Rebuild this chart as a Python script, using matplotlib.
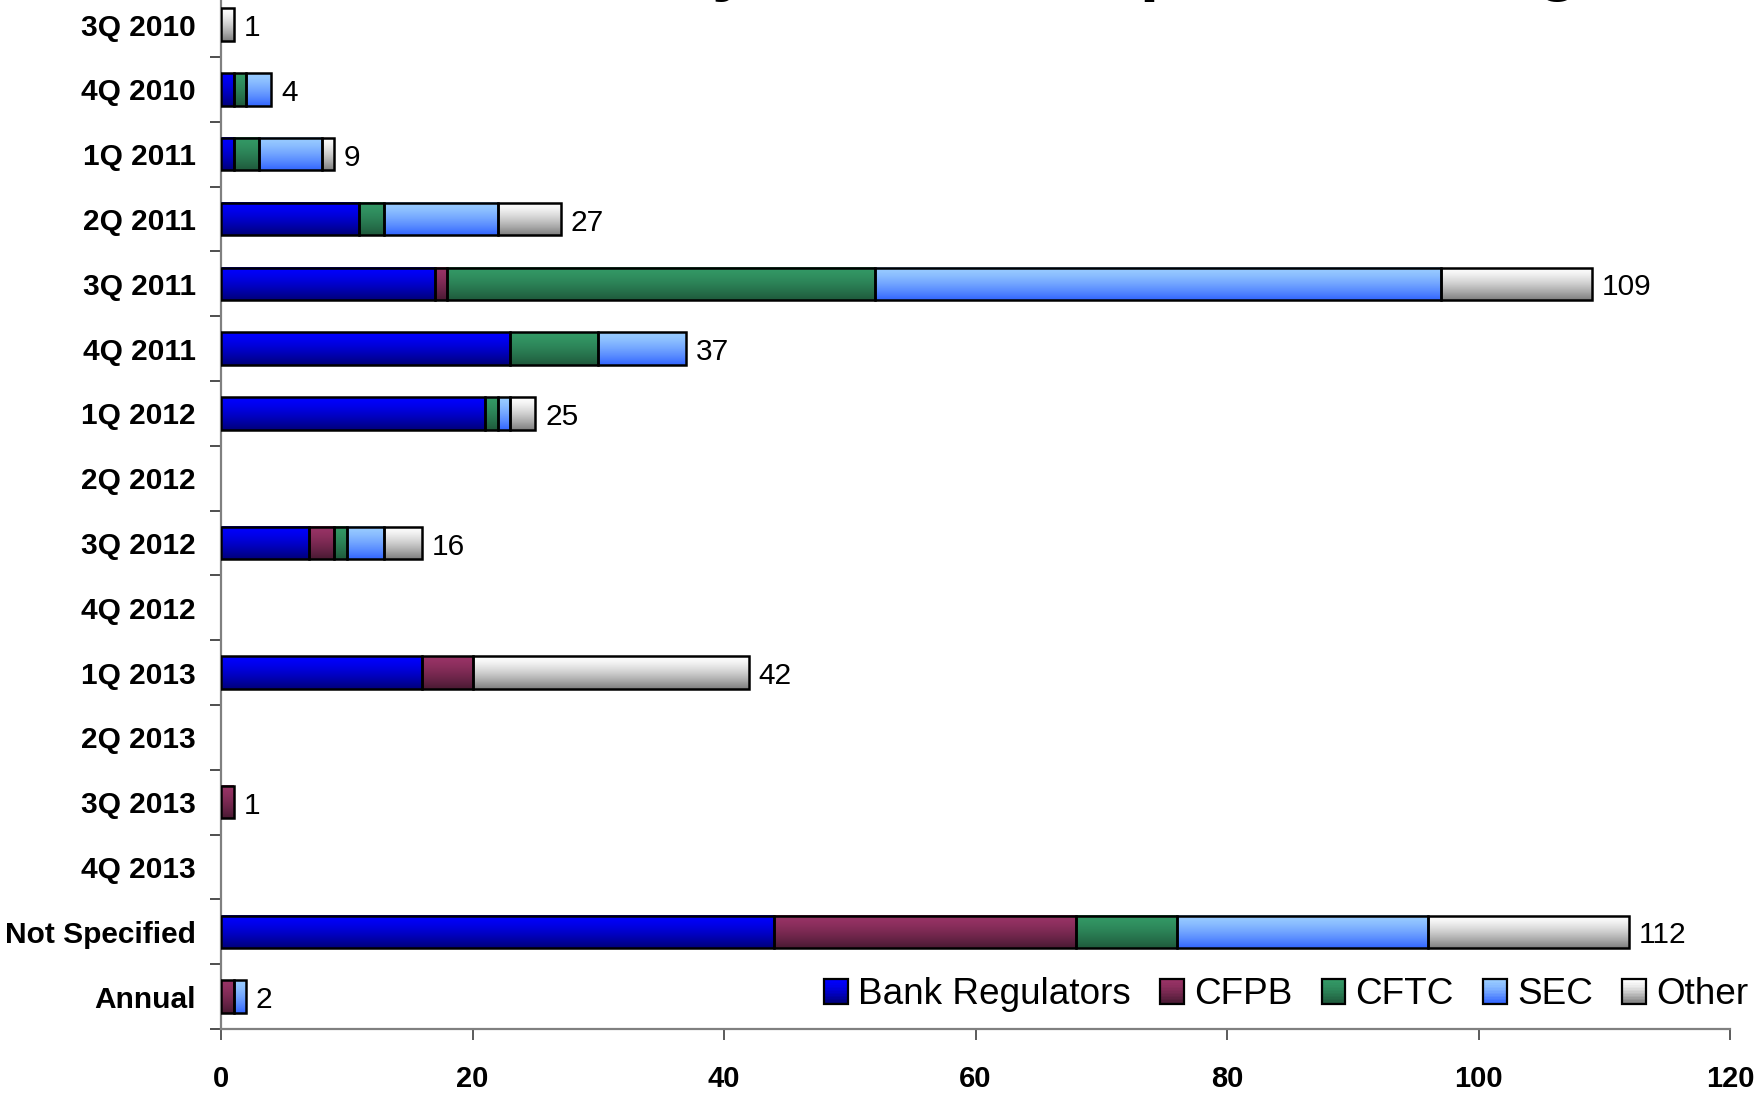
import numpy as np
import matplotlib
matplotlib.use("Agg")
import matplotlib.pyplot as plt
from matplotlib.patches import Rectangle
from matplotlib.legend_handler import HandlerBase
from matplotlib.colors import to_rgb

plt.rcParams['font.family'] = ['Liberation Sans', 'DejaVu Sans']

# ---- data -------------------------------------------------------------
categories = ['3Q 2010', '4Q 2010', '1Q 2011', '2Q 2011', '3Q 2011', '4Q 2011',
              '1Q 2012', '2Q 2012', '3Q 2012', '4Q 2012', '1Q 2013', '2Q 2013',
              '3Q 2013', '4Q 2013', 'Not Specified', 'Annual']
bank_regulators = [0, 1, 1, 11, 17, 23, 21, 0, 7, 0, 16, 0, 0, 0, 44, 0]
cfpb            = [0, 0, 0, 0, 1, 0, 0, 0, 2, 0, 4, 0, 1, 0, 24, 1]
cftc            = [0, 1, 2, 2, 34, 7, 1, 0, 1, 0, 0, 0, 0, 0, 8, 0]
sec             = [0, 2, 5, 9, 45, 7, 1, 0, 3, 0, 0, 0, 0, 0, 20, 1]
other           = [1, 0, 1, 5, 12, 0, 2, 0, 3, 0, 22, 0, 0, 0, 16, 0]

series_names = ['Bank Regulators', 'CFPB', 'CFTC', 'SEC', 'Other']
series_values = [bank_regulators, cfpb, cftc, sec, other]
# (top colour, bottom colour) of each vertical gradient
series_colors = [('#0000FF', '#00007A'),
                 ('#993366', '#4A1A33'),
                 ('#339966', '#1F5A3C'),
                 ('#99CCFF', '#3366FF'),
                 ('#FFFFFF', '#7F7F7F')]

title = 'Rule Deadlines by Date & Responsible Regulator'


def gradient(top, bottom, n=64):
    t = np.linspace(0, 1, n) ** 1.4
    a, b = np.array(to_rgb(top)), np.array(to_rgb(bottom))
    return a[None, :] * (1 - t[:, None]) + b[None, :] * t[:, None]


class GradientHandler(HandlerBase):
    def __init__(self, top, bottom):
        super().__init__()
        self.top, self.bottom = top, bottom

    def create_artists(self, legend, orig_handle, xdescent, ydescent,
                       width, height, fontsize, trans):
        n = 16
        cols = gradient(self.top, self.bottom, n)
        arts = []
        for i in range(n):
            y0 = -ydescent + height * (1 - (i + 1) / n)
            arts.append(Rectangle((-xdescent, y0), width, height / n + 0.3,
                                  facecolor=cols[i], edgecolor='none',
                                  transform=trans))
        arts.append(Rectangle((-xdescent, -ydescent), width, height,
                              facecolor='none', edgecolor='black', lw=1.6,
                              transform=trans))
        return arts


fig = plt.figure(figsize=(17.59, 10.96), dpi=100)
ax = fig.add_axes([221 / 1759, 67 / 1096, (1730 - 221) / 1759, 1036.7 / 1096])

y = np.arange(len(categories))
left = np.zeros(len(categories))
bar_h = 0.5
for name, vals, (c_top, c_bot) in zip(series_names, series_values, series_colors):
    vals = np.array(vals, dtype=float)
    bars = ax.barh(y, vals, left=left, height=bar_h, facecolor='none',
                   edgecolor='black', linewidth=1.8, zorder=3)
    img = gradient(c_top, c_bot)[:, None, :]
    for rect in bars.patches:
        w = rect.get_width()
        if w <= 0:
            rect.set_visible(False)
            continue
        x0, y0, h = rect.get_x(), rect.get_y(), rect.get_height()
        ax.imshow(img, extent=(x0, x0 + w, y0, y0 + h), origin='lower',
                  aspect='auto', interpolation='bilinear', zorder=2)
    left += vals

totals = left
for yi, tot in zip(y, totals):
    if tot > 0:
        ax.annotate(f'{int(tot)}', xy=(tot, yi), xytext=(7, -2.5),
                    textcoords='offset points', ha='left', va='center',
                    fontsize=21.5, color='black')

ax.set_xlim(0, 120)
ax.set_ylim(len(categories) - 0.5, -0.5)

ax.set_xticks(np.arange(0, 121, 20))
ax.set_xticklabels([str(v) for v in range(0, 121, 20)], fontsize=21,
                   fontweight='bold')
ax.tick_params(axis='x', which='major', direction='out', length=8,
               width=1.2, color='#404040', pad=18)

ax.set_yticks(np.arange(-0.5, len(categories), 1.0))
ax.set_yticklabels([])
ax.set_yticks(y, minor=True)
ax.set_yticklabels(categories, minor=True, fontsize=21.5, fontweight='bold')
ax.tick_params(axis='y', which='major', direction='out', length=8,
               width=1.2, color='#303030')
ax.tick_params(axis='y', which='minor', length=0, pad=18)

for side in ('top', 'right'):
    ax.spines[side].set_visible(False)
for side in ('left', 'bottom'):
    ax.spines[side].set_color('#808080')
    ax.spines[side].set_linewidth(1.6)

proxies = [Rectangle((0, 0), 1, 1) for _ in series_names]
handler_map = {p: GradientHandler(t, b) for p, (t, b) in zip(proxies, series_colors)}
fig.legend(proxies, series_names, handler_map=handler_map,
           loc='center right', bbox_to_anchor=(1748 / 1759, 1 - 995 / 1096),
           ncol=5, frameon=False, fontsize=26.6, handlelength=0.64,
           handleheight=0.64, handletextpad=0.27, columnspacing=0.8,
           borderpad=0, borderaxespad=0)

fig.text(148 / 1759, 1 + 13 / 1096, title, ha='left', va='baseline',
         fontsize=50.4, fontweight='bold', color='black')

fig.savefig('out.png', dpi=100)
